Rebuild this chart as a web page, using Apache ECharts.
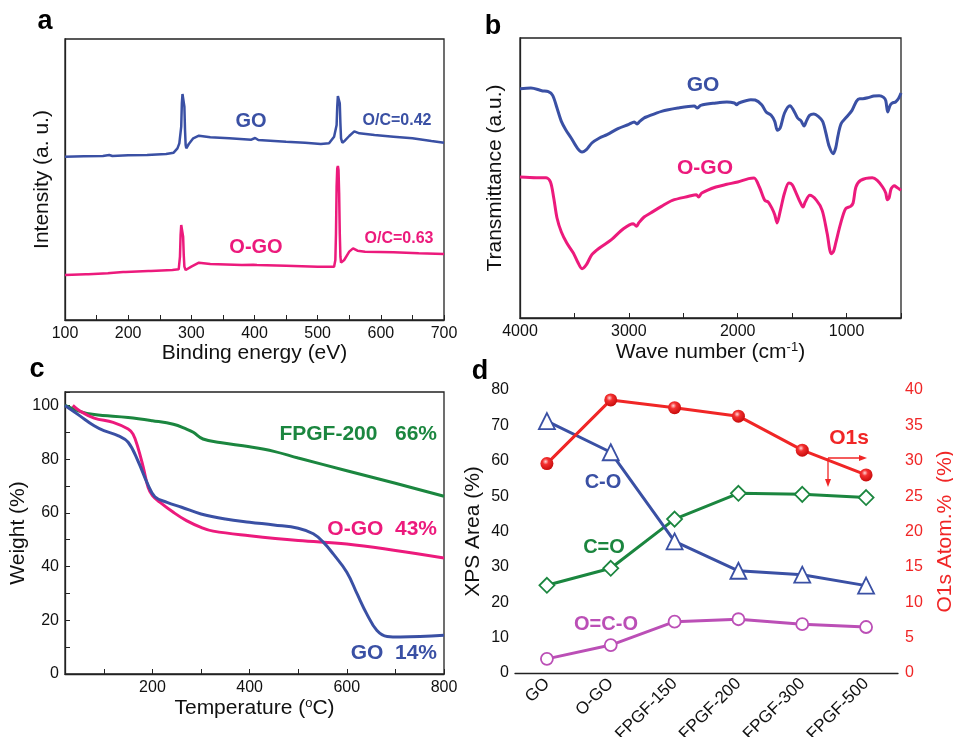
<!DOCTYPE html>
<html>
<head>
<meta charset="utf-8">
<script src="https://cdn.jsdelivr.net/npm/echarts@6/dist/echarts.min.js"></script>
<style>
  html, body { margin: 0; padding: 0; background: #fff; }
  #chart { width: 953px; height: 737px; }
</style>
</head>
<body>
<div id="chart"></div>
<script>
// a: XPS survey, [binding energy eV, intensity a.u.]
const xpsGO = [[100,490],[130,491],[160,492],[170,495],[175,492],[200,494],[230,495],[260,498],[272,502],[278,515],[281,530],[282,526],[283,532],[284,580],[285,650],[286,678],[287,682],[288,675],[289,640],[290,570],[291,525],[292,515],[296,528],[303,545],[312,553],[330,548],[360,545],[395,541],[401,546],[406,540],[450,535],[480,532],[505,528],[518,530],[522,540],[526,550],[528,546],[529,552],[530,585],[531,640],[532,672],[533,678],[534,675],[535,650],[536,590],[537,545],[539,532],[543,538],[550,552],[558,566],[566,560],[590,555],[620,550],[650,545],[680,537],[700,532]]
const xpsOGO = [[100,135],[133,137],[135,141],[137,137],[168,140],[170,145],[172,141],[192,144],[194,147],[196,144],[232,147],[234,150],[236,147],[270,150],[280,152],[281,158],[282,190],[283,255],[284,285],[285,290],[286,283],[287,250],[288,195],[289,160],[291,150],[294,152],[300,160],[312,172],[330,168],[380,165],[398,166],[401,171],[404,165],[450,163],[500,160],[526,160],[527,165],[528,180],[529,260],[530,400],[531,455],[532,462],[533,450],[534,380],[535,260],[536,190],[537,172],[542,180],[550,205],[556,215],[563,208],[575,205],[620,203],[660,200],[700,198]]

// b: FTIR, [wave number cm-1, transmittance a.u.]
const ftirGO = [[4000,688],[3900,690],[3800,682],[3740,679],[3700,668],[3660,630],[3620,590],[3580,565],[3530,540],[3470,508],[3430,498],[3390,505],[3340,525],[3270,540],[3200,550],[3100,568],[3000,581],[2950,588],[2925,582],[2900,590],[2860,600],[2840,603],[2700,620],[2550,630],[2400,636],[2370,630],[2340,638],[2200,645],[2100,648],[2030,645],[2010,640],[1990,645],[1880,655],[1840,654],[1780,640],[1739,618],[1693,608],[1660,590],[1635,563],[1610,570],[1570,615],[1520,637],[1490,625],[1450,600],[1420,592],[1390,576],[1370,590],[1340,608],[1300,612],[1260,605],[1220,590],[1190,555],[1160,515],[1123,493],[1100,510],[1080,545],[1050,583],[1000,603],[950,623],[910,650],[880,658],[850,658],[800,661],[750,666],[700,667],[660,662],[640,652],[622,618],[600,638],[580,645],[550,648],[520,660],[500,675]]
const ftirOGO = [[4000,423],[3850,421],[3760,421],[3720,408],[3690,360],[3660,300],[3620,258],[3570,225],[3510,195],[3470,168],[3430,148],[3390,160],[3340,190],[3270,210],[3160,235],[3050,268],[2960,283],[2930,275],[2910,285],[2860,303],[2800,315],[2700,335],[2600,353],[2450,365],[2380,370],[2360,363],[2330,375],[2200,393],[2100,401],[2000,408],[1900,418],[1850,420],[1801,393],[1752,353],[1720,348],[1684,328],[1660,310],[1638,285],[1610,320],[1570,375],[1530,405],[1500,400],[1470,380],[1430,350],[1400,333],[1380,348],[1338,368],[1276,353],[1224,323],[1178,253],[1141,193],[1120,200],[1101,223],[1055,283],[1009,328],[963,335],[940,345],[914,393],[871,413],[764,421],[718,413],[669,393],[640,375],[626,355],[610,360],[590,388],[560,397],[540,392],[520,388],[500,383]]

// c: TGA, [temperature C, weight %]
const tgaGO = [[20,100],[50,96.2],[80,92.4],[100,90.6],[130,88.7],[150,86.3],[170,79.4],[190,70.8],[205,66],[230,63.9],[260,62.1],[300,59.6],[350,57.7],[400,56.5],[450,55.5],[500,54.3],[531,52.2],[552,49],[572,44.7],[600,37.9],[621,29.9],[641,22.4],[662,16.2],[683,14],[710,13.8],[800,14.4]]
const tgaOGO = [[36,100],[50,98],[80,95.3],[119,93.7],[150,91.2],[160,89.3],[170,84.4],[181,77],[191,69.5],[200,66.4],[215,64],[243,60.2],[270,57.1],[300,54.6],[325,53.2],[400,51.5],[500,49.7],[600,48.4],[700,46],[800,43.2]]
const tgaFPGF = [[20,100],[50,97.8],[80,96.6],[150,95.5],[200,94.3],[243,93],[270,91.2],[284,90],[304,87.5],[339,86.2],[400,84.6],[450,82.9],[500,80.4],[600,75.7],[700,71],[800,66.2]]

// d: XPS area and O1s content per sample
const samples = ['GO', 'O-GO', 'FPGF-150', 'FPGF-200', 'FPGF-300', 'FPGF-500']
const areaCO = [71.2, 62.4, 37.2, 28.9, 27.8, 24.7]
const areaCdO = [24.8, 29.6, 43.5, 50.8, 50.5, 49.6]
const areaOCO = [4.0, 7.9, 14.5, 15.2, 13.8, 13.0]
const atomO1s = [29.6, 38.6, 37.5, 36.3, 31.5, 28.0]

const BLUE = '#3a50a4'
const PINK = '#ec1a7c'
const GREEN = '#1b863f'
const PURPLE = '#bb4fb6'
const RED = '#f02626'
const FONT = 'Liberation Sans, Arial, sans-serif'

const chart = echarts.init(document.getElementById('chart'))

// fixed pixel boxes; outerBoundsMode none keeps labels from shrinking them
const boxGrid = (left, top, width, height, border) => ({
  left, top, width, height, outerBoundsMode: 'none',
  show: border, borderColor: '#222', borderWidth: 1.3, backgroundColor: 'transparent'
})

const baseAxis = {
  axisLine: { lineStyle: { color: '#222', width: 1.3 } },
  axisTick: { inside: true, length: 5, lineStyle: { color: '#222' } },
  axisLabel: { color: '#111', fontSize: 16, fontFamily: FONT, margin: 6 },
  splitLine: { show: false },
  nameLocation: 'middle',
  nameTextStyle: { color: '#111', fontSize: 21, fontFamily: FONT }
}

const hiddenY = (gridIndex, max, name, gap) => Object.assign({}, baseAxis, {
  type: 'value', gridIndex, min: 0, max,
  axisLabel: { show: false }, axisTick: { show: false },
  name, nameGap: gap
})

const line = (data, color, xi, yi, smooth, width) => ({
  type: 'line', data, xAxisIndex: xi, yAxisIndex: yi, symbol: 'none', smooth,
  lineStyle: { color, width }, itemStyle: { color }, z: 3
})

const hollow = (data, color, symbol, size) => ({
  type: 'line', data, xAxisIndex: 3, yAxisIndex: 3, symbol, symbolSize: size,
  lineStyle: { color, width: 3 },
  itemStyle: { color: '#fff', borderColor: color, borderWidth: 1.8 }, z: 4
})

const txt = (text, x, y, color, size, align) => ({
  type: 'text', x, y, z: 10,
  style: { text, fill: color, font: 'bold ' + size + 'px ' + FONT, textAlign: align || 'center', textVerticalAlign: 'middle' }
})

const supRich = { sup: { fontSize: 13, fontFamily: FONT, color: '#111', verticalAlign: 'top', padding: [0, 0, 10, 0] } }

const option = {
  animation: false,
  textStyle: { fontFamily: FONT },
  grid: [
    boxGrid(65, 39, 379, 281, true),
    boxGrid(520, 38, 381, 280, true),
    boxGrid(65, 392, 379, 282, true),
    boxGrid(515, 390, 383, 283, false)
  ],
  xAxis: [
    Object.assign({}, baseAxis, {
      type: 'value', gridIndex: 0, min: 100, max: 700, interval: 50,
      axisLabel: Object.assign({}, baseAxis.axisLabel, { formatter: v => v % 100 === 0 ? v : '' }),
      name: 'Binding energy (eV)', nameGap: 22
    }),
    Object.assign({}, baseAxis, {
      type: 'value', gridIndex: 1, min: 500, max: 4000, interval: 500, inverse: true,
      axisLabel: Object.assign({}, baseAxis.axisLabel, { formatter: v => v % 1000 === 0 ? v : '' }),
      name: 'Wave number (cm{sup|-1})', nameGap: 22,
      nameTextStyle: Object.assign({}, baseAxis.nameTextStyle, { rich: supRich })
    }),
    Object.assign({}, baseAxis, {
      type: 'value', gridIndex: 2, min: 20, max: 800,
      axisLabel: Object.assign({}, baseAxis.axisLabel, { customValues: [200, 400, 600, 800] }),
      axisTick: Object.assign({}, baseAxis.axisTick, { customValues: [100, 200, 300, 400, 500, 600, 700, 800] }),
      name: 'Temperature ({sup|o}C)', nameGap: 22,
      nameTextStyle: Object.assign({}, baseAxis.nameTextStyle, { rich: supRich })
    }),
    Object.assign({}, baseAxis, {
      type: 'category', gridIndex: 3, data: samples, boundaryGap: true,
      axisTick: Object.assign({}, baseAxis.axisTick, { alignWithLabel: true }),
      axisLabel: Object.assign({}, baseAxis.axisLabel, { rotate: 45, interval: 0, margin: 8, fontSize: 17 })
    })
  ],
  yAxis: [
    hiddenY(0, 843, 'Intensity (a. u.)', 12),
    hiddenY(1, 840, 'Transmittance (a.u.)', 14),
    Object.assign({}, baseAxis, {
      type: 'value', gridIndex: 2, min: 0, max: 105, interval: 10,
      axisLabel: Object.assign({}, baseAxis.axisLabel, { formatter: v => (v % 20 === 0 && v <= 100) ? v : '' }),
      name: 'Weight (%)', nameGap: 31
    }),
    Object.assign({}, baseAxis, {
      type: 'value', gridIndex: 3, min: 0, max: 80, interval: 5,
      axisLabel: Object.assign({}, baseAxis.axisLabel, { formatter: v => v % 10 === 0 ? v : '' }),
      name: 'XPS Area (%)', nameGap: 31
    }),
    Object.assign({}, baseAxis, {
      type: 'value', gridIndex: 3, position: 'right', min: 0, max: 40, interval: 2.5,
      axisLine: { lineStyle: { color: RED, width: 1.3 } },
      axisTick: { inside: true, length: 5, lineStyle: { color: RED } },
      axisLabel: Object.assign({}, baseAxis.axisLabel, { color: RED, margin: 7, formatter: v => v % 5 === 0 ? v : '' }),
      name: 'O1s Atom.%  (%)', nameGap: 37,
      nameTextStyle: Object.assign({}, baseAxis.nameTextStyle, { color: RED })
    })
  ],
  series: [
    line(xpsGO, BLUE, 0, 0, false, 2.5),
    line(xpsOGO, PINK, 0, 0, false, 2.5),
    line(ftirGO, BLUE, 1, 1, 0.3, 3),
    line(ftirOGO, PINK, 1, 1, 0.3, 3),
    line(tgaFPGF, GREEN, 2, 2, 0.4, 3),
    line(tgaOGO, PINK, 2, 2, 0.4, 3),
    line(tgaGO, BLUE, 2, 2, 0.4, 3),
    hollow(areaOCO, PURPLE, 'circle', 12),
    hollow(areaCdO, GREEN, 'diamond', 15),
    hollow(areaCO, BLUE, 'triangle', 16),
    {
      type: 'line', data: atomO1s, xAxisIndex: 3, yAxisIndex: 4, symbol: 'circle', symbolSize: 13,
      lineStyle: { color: RED, width: 3 },
      itemStyle: {
        color: {
          type: 'radial', x: 0.4, y: 0.35, r: 0.65,
          colorStops: [
            { offset: 0, color: '#ffd6d6' },
            { offset: 0.35, color: '#f43030' },
            { offset: 1, color: '#c80c0c' }
          ]
        }
      },
      z: 5
    }
  ],
  graphic: [
    txt('a', 45, 22, '#000', 27),
    txt('b', 493, 27, '#000', 27),
    txt('c', 37, 370, '#000', 27),
    txt('d', 480, 372, '#000', 27),
    txt('GO', 251, 121, BLUE, 20),
    txt('O/C=0.42', 397, 121, BLUE, 16),
    txt('O-GO', 256, 247, PINK, 20),
    txt('O/C=0.63', 399, 239, PINK, 16),
    txt('GO', 703, 85, BLUE, 21),
    txt('O-GO', 705, 168, PINK, 21),
    txt('FPGF-200   66%', 437, 434, GREEN, 21, 'right'),
    txt('O-GO  43%', 437, 529, PINK, 21, 'right'),
    txt('GO  14%', 437, 653, BLUE, 21, 'right'),
    txt('C-O', 603, 482, BLUE, 20),
    txt('C=O', 604, 547, GREEN, 20),
    txt('O=C-O', 606, 624, PURPLE, 20),
    txt('O1s', 849, 438, RED, 21),
    { type: 'line', shape: { x1: 828, y1: 458, x2: 861, y2: 458 }, style: { stroke: RED, lineWidth: 1.3 }, z: 10 },
    { type: 'polygon', shape: { points: [[867, 458], [859, 455], [859, 461]] }, style: { fill: RED }, z: 10 },
    { type: 'line', shape: { x1: 828, y1: 458, x2: 828, y2: 481 }, style: { stroke: RED, lineWidth: 1.3 }, z: 10 },
    { type: 'polygon', shape: { points: [[828, 487], [825, 479], [831, 479]] }, style: { fill: RED }, z: 10 }
  ]
}

chart.setOption(option)
</script>
</body>
</html>
